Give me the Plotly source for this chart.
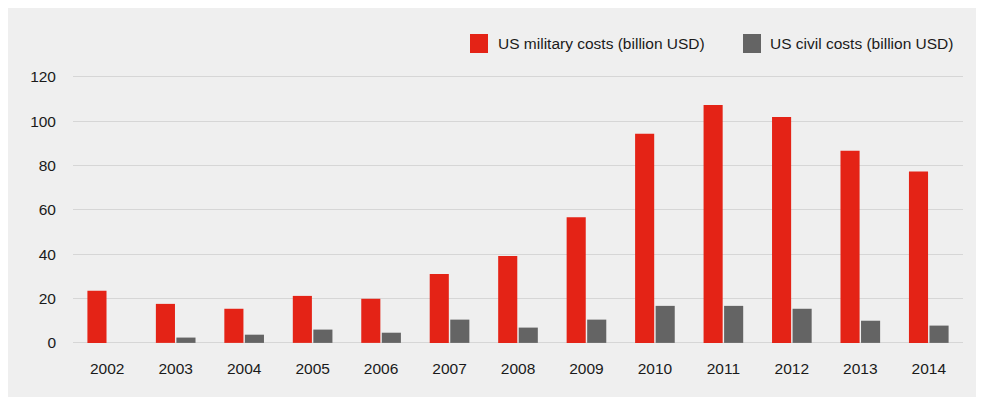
import plotly.graph_objects as go

years = ["2002", "2003", "2004", "2005", "2006", "2007", "2008",
         "2009", "2010", "2011", "2012", "2013", "2014"]
military = [23.5, 17.6, 15.4, 21.2, 19.9, 31.1, 39.2, 56.7, 94.3, 107.3, 101.9, 86.7, 77.3]
civil = [None, 2.4, 3.7, 6.0, 4.6, 10.5, 6.9, 10.5, 16.7, 16.7, 15.4, 10.0, 7.8]
series_names = ["US military costs (billion USD)", "US civil costs (billion USD)"]
colors = ["#e42316", "#646464"]
y_ticks = [0, 20, 40, 60, 80, 100, 120]

FONT = "Liberation Sans, Arial, Helvetica, sans-serif"
BG = "#efefef"

fig = go.Figure()
fig.add_trace(go.Bar(x=years, y=military, name=series_names[0],
                     marker=dict(color=colors[0], line=dict(width=0)), showlegend=False))
fig.add_trace(go.Bar(x=years, y=civil, name=series_names[1],
                     marker=dict(color=colors[1], line=dict(width=0)), showlegend=False))

# manual legend, placed in screen-like coordinates (paper units of the plot area)
W, H, L, T, B = 976, 389, 65, 66, 52
pw, ph = W - L - 21, H - T - B


def px_x(p):
    return (p - 8 - L) / pw


def px_y(p):
    return (H - B - (p - 8)) / ph


legend_px = [(470, 488, 496), (743, 761, 768)]
for (sx0, sx1, tx), name, col in zip(legend_px, series_names, colors):
    fig.add_shape(type="rect", xref="paper", yref="paper", x0=px_x(sx0), x1=px_x(sx1),
                  y0=px_y(53), y1=px_y(34), fillcolor=col, line=dict(width=0))
    fig.add_annotation(xref="paper", yref="paper", x=px_x(tx), y=px_y(43.5), text=name,
                       showarrow=False, xanchor="left", yanchor="middle",
                       font=dict(family=FONT, size=15.5, color="#1a1a1a"))

fig.update_layout(
    width=W, height=H,
    margin=dict(l=L, r=21, t=T, b=B, pad=0),
    paper_bgcolor=BG, plot_bgcolor=BG,
    barmode="group", bargap=0.4, bargroupgap=0.07,
    font=dict(family=FONT, size=15.5, color="#1a1a1a"),
)
fig.update_xaxes(showgrid=False, showline=False, zeroline=False, ticks="",
                 ticklabelstandoff=12, tickfont=dict(size=15.5))
fig.update_yaxes(range=[-0.95, 121.3], tickvals=y_ticks, showgrid=True, gridcolor="#d6d6d6",
                 gridwidth=1.2, zeroline=False, showline=False, ticks="",
                 ticklabelstandoff=16, tickfont=dict(size=15.5))

fig.write_html("out.html")
